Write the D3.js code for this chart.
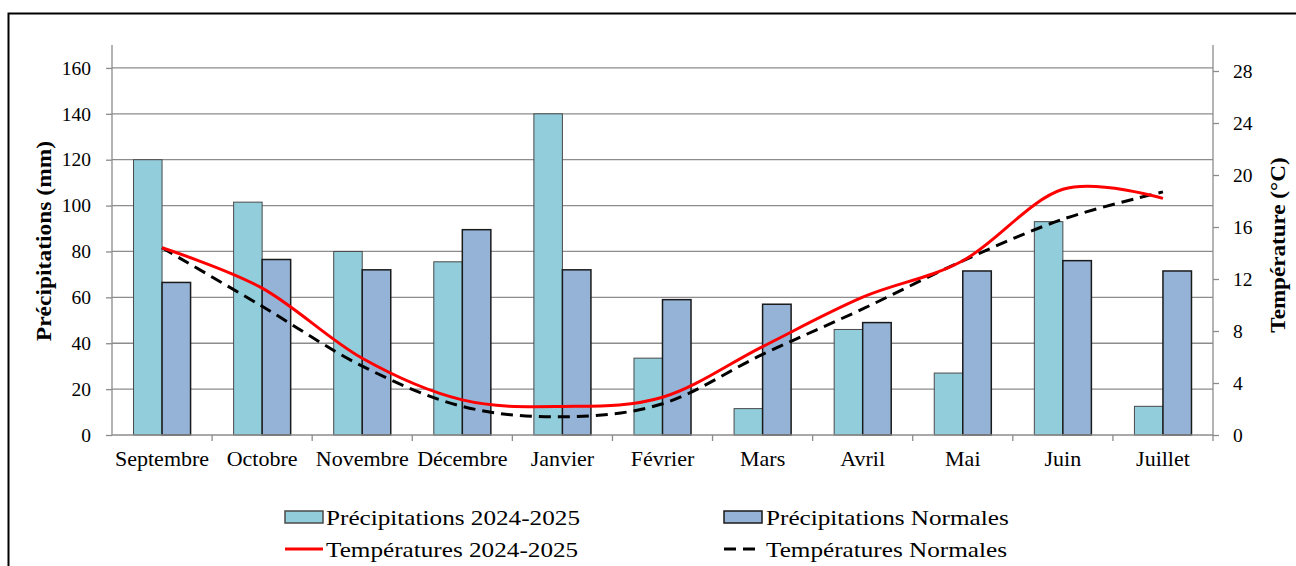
<!DOCTYPE html>
<html>
<head>
<meta charset="utf-8">
<script src="https://cdn.jsdelivr.net/npm/d3@7"></script>
<style>
  body { margin: 0; background: #fff; }
  svg { font-family: "Liberation Serif", "Times New Roman", serif; }
</style>
</head>
<body>
<svg id="fig" width="1296" height="566"></svg>
<script>
const months = ["Septembre", "Octobre", "Novembre", "Décembre", "Janvier", "Février",
                "Mars", "Avril", "Mai", "Juin", "Juillet"];
const precip2425 = [120, 101.5, 80, 75.5, 140, 33.5, 11.5, 46, 27, 93, 12.5];
const precipNormal = [66.5, 76.5, 72, 89.5, 72, 59, 57, 49, 71.5, 76, 71.5];
const temp2425 = [14.4, 11.3, 5.9, 2.7, 2.2, 2.9, 6.8, 10.6, 13.4, 18.9, 18.2];
const tempNormal = [14.4, 9.9, 5.3, 2.2, 1.4, 2.4, 6.2, 9.7, 13.4, 16.6, 18.7];
const leftTicks = [0, 20, 40, 60, 80, 100, 120, 140, 160];
const rightTicks = [0, 4, 8, 12, 16, 20, 24, 28];

const svg = d3.select("#fig");
const plotLeft = 112, plotRight = 1213, plotTop = 45, plotBottom = 435;

// frame
svg.append("path")
    .attr("d", `M8.5,566 V13.5 H1296`)
    .attr("fill", "none").attr("stroke", "#000").attr("stroke-width", 2);

const x = d3.scaleBand().domain(months).range([plotLeft, plotRight]);
const yL = d3.scaleLinear().domain([0, 170]).range([plotBottom, plotTop]);
const yR = d3.scaleLinear().domain([0, 30]).range([plotBottom, plotTop]);

// gridlines
svg.append("g").selectAll("line")
    .data(leftTicks.filter(d => d > 0))
    .join("line")
    .attr("x1", plotLeft).attr("x2", plotRight)
    .attr("y1", d => yL(d)).attr("y2", d => yL(d))
    .attr("stroke", "#8c8c8c").attr("stroke-width", 1.3);

// bars
const barW = x.bandwidth() * 0.285;
const gap = (x.bandwidth() - 2 * barW) / 2;
svg.append("g").selectAll("rect")
    .data(precip2425)
    .join("rect")
    .attr("x", (d, i) => x(months[i]) + gap)
    .attr("y", d => yL(d))
    .attr("width", barW)
    .attr("height", d => plotBottom - yL(d))
    .attr("fill", "#92cddc").attr("stroke", "#4a4a4a").attr("stroke-width", 1);

svg.append("g").selectAll("rect")
    .data(precipNormal)
    .join("rect")
    .attr("x", (d, i) => x(months[i]) + gap + barW)
    .attr("y", d => yL(d))
    .attr("width", barW)
    .attr("height", d => plotBottom - yL(d))
    .attr("fill", "#95b3d7").attr("stroke", "#1a1a1a").attr("stroke-width", 1.5);

// axes
const axisL = svg.append("g").attr("transform", `translate(${plotLeft},0)`)
    .call(d3.axisLeft(yL).tickValues(leftTicks).tickSize(6).tickSizeOuter(0).tickPadding(15));
const axisR = svg.append("g").attr("transform", `translate(${plotRight},0)`)
    .call(d3.axisRight(yR).tickValues(rightTicks).tickSize(6).tickSizeOuter(0).tickPadding(14));
const axisB = svg.append("g").attr("transform", `translate(0,${plotBottom})`)
    .call(d3.axisBottom(x).tickSize(0).tickPadding(17));
// category boundary ticks
svg.append("g").selectAll("line")
    .data(months.slice(1).concat(["end"]))
    .join("line")
    .attr("x1", d => d === "end" ? plotRight : x(d))
    .attr("x2", d => d === "end" ? plotRight : x(d))
    .attr("y1", plotBottom).attr("y2", plotBottom + 6)
    .attr("stroke", "#8c8c8c").attr("stroke-width", 1.3);

[axisL, axisR, axisB].forEach(a => {
    a.select(".domain").attr("stroke", "#8c8c8c").attr("stroke-width", 1.3);
    a.selectAll(".tick line").attr("stroke", "#8c8c8c").attr("stroke-width", 1.3);
    a.selectAll("text").attr("font-size", 19.5).attr("fill", "#000")
        .attr("font-family", "Liberation Serif");
});
// the reference text is a little wider than plain Times
axisB.selectAll("text").attr("font-size", 20).attr("transform", "scale(1.1,1)");
axisL.select(".domain").attr("d", `M0,${plotTop}V${plotBottom}`);
axisR.select(".domain").attr("d", `M0,${plotTop}V${plotBottom}`);
axisB.select(".domain").attr("d", `M${plotLeft},0H${plotRight}`);

// temperature lines
const line = d3.line()
    .x((d, i) => x(months[i]) + x.bandwidth() / 2)
    .y(d => yR(d))
    .curve(d3.curveCatmullRom.alpha(0));

svg.append("path").datum(tempNormal)
    .attr("d", line).attr("fill", "none")
    .attr("stroke", "#000").attr("stroke-width", 3)
    .attr("stroke-dasharray", "12,7");
svg.append("path").datum(temp2425)
    .attr("d", line).attr("fill", "none")
    .attr("stroke", "#ff0000").attr("stroke-width", 3);

// axis titles
svg.append("text")
    .attr("transform", `translate(51,241) rotate(-90) scale(1.12,1)`)
    .attr("text-anchor", "middle")
    .attr("font-size", 21).attr("font-weight", "bold")
    .text("Précipitations (mm)");
svg.append("text")
    .attr("transform", `translate(1285,245) rotate(-90) scale(1.1,1)`)
    .attr("text-anchor", "middle")
    .attr("font-size", 21).attr("font-weight", "bold")
    .text("Température (°C)");

// legend
const legendData = [
    { label: "Précipitations 2024-2025", type: "rect", fill: "#92cddc", stroke: "#4a4a4a", x: 284, tx: 326, y: 517 },
    { label: "Précipitations Normales", type: "rect", fill: "#95b3d7", stroke: "#1a1a1a", x: 723, tx: 766, y: 517 },
    { label: "Températures 2024-2025", type: "line", stroke: "#ff0000", dash: null, x: 284, tx: 326, y: 549 },
    { label: "Températures Normales", type: "line", stroke: "#000", dash: "12,7", x: 723, tx: 766, y: 549 }
];
const legend = svg.append("g").attr("class", "legend");
legendData.forEach(d => {
    if (d.type === "rect") {
        legend.append("rect")
            .attr("x", d.x + 1).attr("y", d.y - 6)
            .attr("width", 38).attr("height", 12)
            .attr("fill", d.fill).attr("stroke", d.stroke).attr("stroke-width", 1.5);
    } else {
        legend.append("line")
            .attr("x1", d.x + 1).attr("x2", d.x + 39)
            .attr("y1", d.y).attr("y2", d.y)
            .attr("stroke", d.stroke).attr("stroke-width", 3)
            .attr("stroke-dasharray", d.dash);
    }
    legend.append("text")
        .attr("transform", `translate(${d.tx},${d.y + 8}) scale(1.2,1)`)
        .attr("font-size", 21)
        .text(d.label);
});
</script>
</body>
</html>
